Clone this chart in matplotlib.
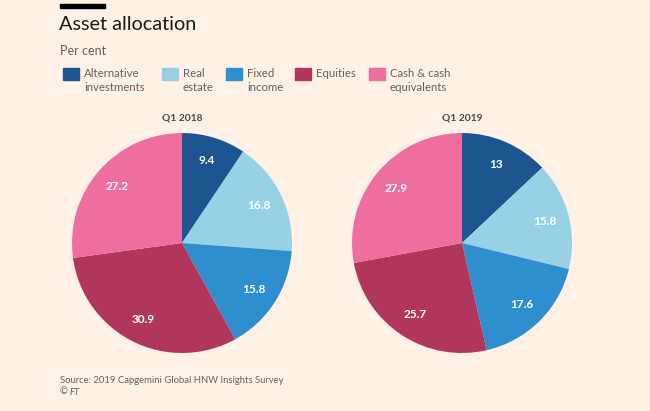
import matplotlib
matplotlib.use("Agg")
import matplotlib.pyplot as plt
from matplotlib.patches import Rectangle
import numpy as np

plt.rcParams['font.family'] = ['Lato', 'DejaVu Sans']

categories = ["Alternative\ninvestments", "Real\nestate", "Fixed\nincome", "Equities", "Cash & cash\nequivalents"]
values_2018 = [9.4, 16.8, 15.8, 30.9, 27.2]
values_2019 = [13, 15.8, 17.6, 25.7, 27.9]
labels_2018 = ["9.4", "16.8", "15.8", "30.9", "27.2"]
labels_2019 = ["13", "15.8", "17.6", "25.7", "27.9"]
panel_titles = ["Q1 2018", "Q1 2019"]
colors = ["#1d5590", "#96d1e6", "#2f8fce", "#b1365b", "#ee6f9f"]

BG = "#fff1e5"
W, H = 650, 411
fig = plt.figure(figsize=(6.5, 4.11), dpi=100, facecolor=BG)

def fx(x): return x / W
def fy(y): return 1 - y / H

# top bar
fig.patches.append(Rectangle((fx(60), fy(8)), fx(45), 3.5 / H, transform=fig.transFigure,
                             color="black", zorder=5))
fig.text(fx(59), fy(25), "Asset allocation", fontsize=14.3, color="#1a1a1a", va="center", ha="left")
fig.text(fx(60), fy(51), "Per cent", fontsize=9, color="#66605c", va="center", ha="left")

swatch_x = [63, 162, 226, 295, 369]
for sx, cat, c in zip(swatch_x, categories, colors):
    fig.patches.append(Rectangle((fx(sx), fy(80)), fx(16), 12 / H, transform=fig.transFigure,
                                 color=c))
    fig.text(fx(sx + 21), fy(68), cat, fontsize=8.2, color="#66605c", va="top", ha="left",
             linespacing=1.3)

centers = [182, 462]
R = 110
CY = 243
for cx, vals, labs, title in zip(centers, [values_2018, values_2019],
                                 [labels_2018, labels_2019], panel_titles):
    ax = fig.add_axes([fx(cx - R), fy(CY + R), 2 * R / W, 2 * R / H])
    ax.set_facecolor(BG)
    wedges, _ = ax.pie(vals, colors=colors, startangle=90, counterclock=False,
                       wedgeprops=dict(linewidth=0))
    ax.set_xlim(-1, 1)
    ax.set_ylim(-1, 1)
    for w, lab in zip(wedges, labs):
        ang = np.deg2rad((w.theta1 + w.theta2) / 2)
        ax.text(0.78 * np.cos(ang), 0.78 * np.sin(ang), lab, ha="center", va="center",
                color="white", fontsize=8.5, fontweight="bold")
    fig.text(fx(cx), fy(118), title, ha="center", va="center", fontsize=7.4,
             fontweight="bold", color="#4d4845")

fig.text(fx(60), fy(380), "Source: 2019 Capgemini Global HNW Insights Survey", fontsize=6.8,
         color="#66605c", va="center", ha="left")
fig.text(fx(60), fy(392), "©", fontsize=6.8, color="#66605c", va="center", ha="left")
fig.text(fx(70), fy(392), "FT", fontsize=6.8, color="#66605c", va="center", ha="left",
         style="italic")

fig.savefig("out.png", dpi=100, facecolor=BG)
